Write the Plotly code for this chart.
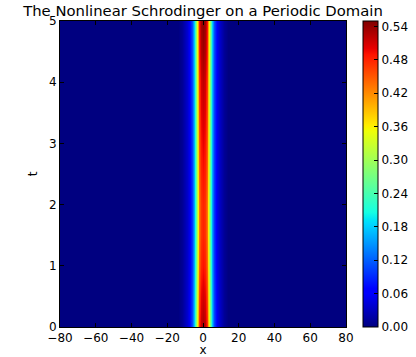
import numpy as np
import plotly.graph_objects as go

# Spatial grid (unit spacing) and time samples
x = np.arange(-80, 81, 1)
t = [0.0, 0.5, 1.0, 1.5, 2.0, 2.5, 3.0, 3.5, 4.0, 4.5, 5.0]

# |u| across the soliton core, x = 0..14 (symmetric), at reference height 0.49
core_offsets = list(range(0, 15))
core_profile = [0.49, 0.48, 0.44, 0.37, 0.26, 0.16, 0.10, 0.07,
                0.05, 0.035, 0.025, 0.015, 0.01, 0.005, 0.0]

# Peak amplitude of the soliton at each time sample
peak = [0.53, 0.51, 0.49, 0.48, 0.48, 0.49, 0.50, 0.51, 0.52, 0.535, 0.545]

# Colourbar ticks
cb_ticks = [0.00, 0.06, 0.12, 0.18, 0.24, 0.30, 0.36, 0.42, 0.48, 0.54]
x_ticks = [-80, -60, -40, -20, 0, 20, 40, 60, 80]
t_ticks = [0, 1, 2, 3, 4, 5]

# Build the field: profile placed symmetrically about x = 0, scaled per time row
shape = np.zeros(len(x))
for off, val in zip(core_offsets, core_profile):
    shape[x == off] = val
    shape[x == -off] = val
shape = shape / core_profile[0]
z = np.array([shape * p for p in peak])

# matplotlib-style "jet" colour map
jet = [
    [0.000, "rgb(0,0,128)"],
    [0.110, "rgb(0,0,255)"],
    [0.125, "rgb(0,0,255)"],
    [0.340, "rgb(0,219,255)"],
    [0.350, "rgb(0,229,247)"],
    [0.375, "rgb(21,255,226)"],
    [0.640, "rgb(238,255,8)"],
    [0.650, "rgb(247,246,0)"],
    [0.660, "rgb(255,236,0)"],
    [0.890, "rgb(255,19,0)"],
    [0.910, "rgb(232,0,0)"],
    [1.000, "rgb(128,0,0)"],
]

font = dict(family="DejaVu Sans", size=12, color="black")

fig = go.Figure(
    go.Heatmap(
        x=x, y=t, z=z,
        zmin=0.0, zmax=0.5497,
        zsmooth="best",
        colorscale=jet,
        colorbar=dict(
            x=(363 - 60) / 286, xanchor="left", xpad=0,
            y=0.5, yanchor="middle", len=1.0, lenmode="fraction", ypad=0,
            thickness=15, thicknessmode="pixels",
            outlinewidth=1, outlinecolor="black",
            tickvals=cb_ticks, ticktext=[f"{v:.2f}" for v in cb_ticks],
            ticks="inside", ticklen=4, tickcolor="black",
            tickfont=font,
        ),
    )
)

fig.update_layout(
    width=416, height=357,
    margin=dict(l=60, r=70, t=21, b=30, autoexpand=False),
    paper_bgcolor="white", plot_bgcolor="white",
    font=font,
    title=dict(
        text="The Nonlinear Schrodinger on a Periodic Domain",
        font=dict(family="DejaVu Sans", size=14.8, color="black"),
        x=0.5, xref="paper", xanchor="center",
        y=1 - 11 / 357, yref="container", yanchor="middle",
    ),
)

fig.update_xaxes(
    range=[-80, 80], tickvals=x_ticks,
    ticks="inside", ticklen=4, tickcolor="black", mirror="ticks",
    showline=True, linecolor="black", linewidth=1,
    showgrid=False, zeroline=False, automargin=False,
    title=dict(text="x", standoff=0, font=font),
    tickfont=font,
)
fig.update_yaxes(
    range=[0, 5], tickvals=t_ticks,
    ticks="inside", ticklen=4, tickcolor="black", mirror="ticks",
    showline=True, linecolor="black", linewidth=1,
    showgrid=False, zeroline=False, automargin=False,
    title=dict(text="t", standoff=8, font=font),
    tickfont=font,
)

fig.write_html("out.html")
